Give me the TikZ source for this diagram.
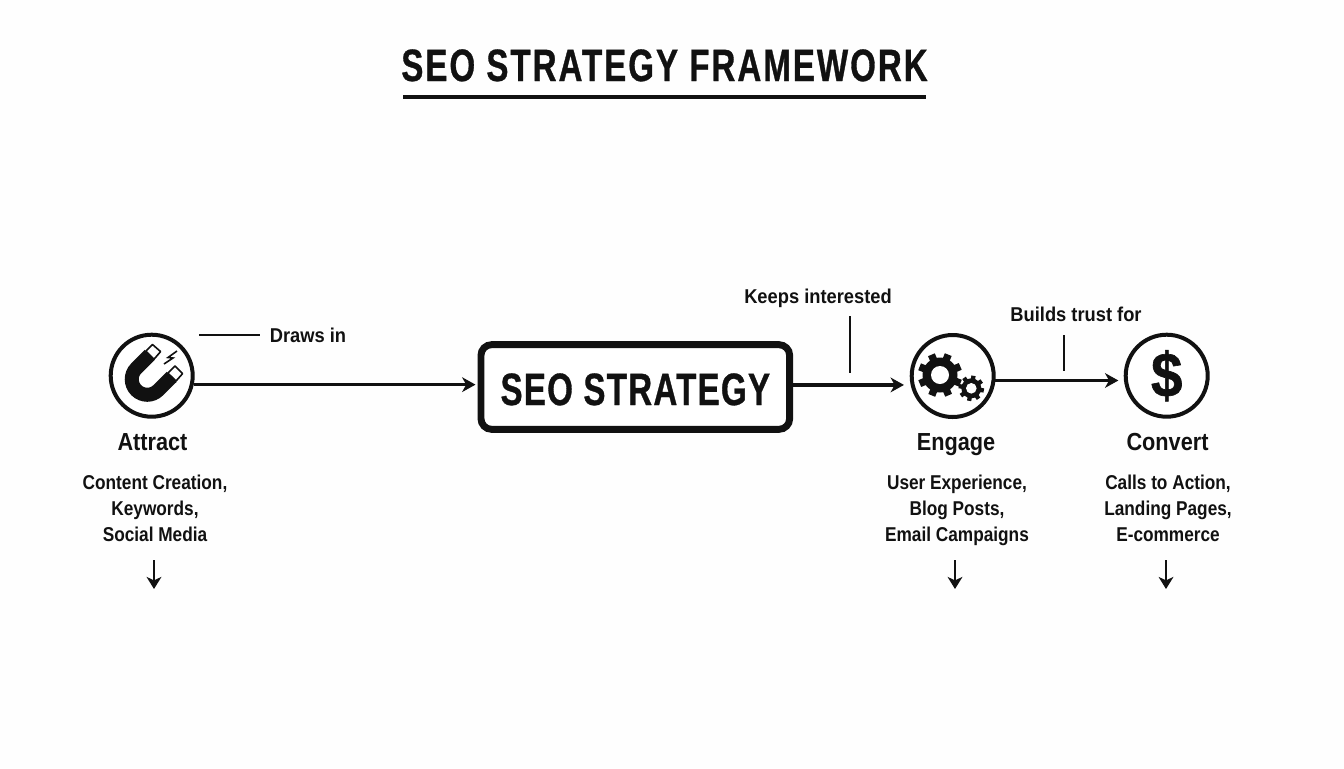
\documentclass[tikz,border=0pt]{standalone}
\usepackage{fontspec}
\setmainfont{Liberation Sans}
\newfontfamily\titlefont{Liberation Sans Bold}[FakeStretch=0.73,FakeBold=0.7,LetterSpace=4.4]
\newfontfamily\boxfont{Liberation Sans Bold}[FakeStretch=0.73,FakeBold=0.7,LetterSpace=2.8]
\newfontfamily\headfont{Liberation Sans Bold}[FakeStretch=0.88]
\newfontfamily\subfont{Liberation Sans Bold}[FakeStretch=0.862]
\newfontfamily\notefont{Liberation Sans Bold}[FakeStretch=0.915]
\newfontfamily\iconfont{Liberation Sans Bold}[FakeStretch=0.9,FakeBold=1]
\usetikzlibrary{arrows.meta,calc}
\definecolor{ink}{HTML}{111111}
\tikzset{
  x=0.75pt,y=-0.75pt,
  ring/.style={circle,draw=ink,line width=3pt,minimum size=61.5pt,inner sep=0pt,fill=white},
  flow/.style={draw=ink,line width=2.5pt,-{Stealth[length=10pt,width=11pt,inset=3pt]}},
  downflow/.style={draw=ink,line width=1.8pt,-{Stealth[length=9pt,width=11pt,inset=2.5pt]}},
  leader/.style={draw=ink,line width=1.5pt},
  heading/.style={text=ink,font=\headfont\fontsize{18.5}{18.5}\selectfont,inner sep=0pt,anchor=base},
  note/.style={text=ink,font=\notefont\fontsize{15}{15}\selectfont,inner sep=0pt,anchor=base},
  sub/.style={text=ink,font=\subfont\fontsize{15}{19.5}\selectfont,inner sep=0pt,align=center,anchor=center},
  tip/.style={draw=ink,fill=white,line width=1.2pt,line join=round}
}
\begin{document}
\begin{tikzpicture}
\useasboundingbox (0,0) rectangle (1344,768);
\fill[white!99.5!black] (0,0) rectangle (1344,768);
% title
\node[text=ink,font=\titlefont\fontsize{34}{34}\selectfont,inner sep=0pt,anchor=base] (title) at (664.5,81) {SEO STRATEGY FRAMEWORK};
\coordinate (ulA) at (403,97); \coordinate (ulB) at (926,97);
\draw[draw=ink,line width=2.4pt] (ulA) -- (ulB);
% centre box
\node[draw=ink,line width=5.2pt,rounded corners=8pt,fill=white,minimum width=231.5pt,minimum height=63.5pt,inner sep=0pt,
  text=ink,font=\boxfont\fontsize{34}{34}\selectfont,text height=27pt,text depth=0pt] (box) at (635.3,387) {SEO STRATEGY};
% rings
\node[ring] (attract) at (151.7,375.7) {};
\node[ring] (engage) at (952.7,376) {};
\node[ring,font=\iconfont\fontsize{47}{47}\selectfont,text=ink] (convert) at (1166.7,375.7) {\$};
% connectors
\draw[flow,shorten >=1.5pt] (attract.-12) -- (attract.-12 -| box.west);
\draw[flow,shorten >=5pt] (box.east |- engage.192) -- (engage.192);
\draw[flow,shorten >=4pt] (engage.-6) -- (engage.-6 -| convert.west);
% magnet
\draw[ink,line width=10.5pt,line cap=butt] (149.7,354.9) -- (136.3,368.3) arc[start angle=225,end angle=45,radius=15.5] -- (171.7,376.9);
\draw[tip] (145.9,351.1) -- (152.5,344.5) -- (160.6,351.6) -- (154,359.2) -- cycle;
\draw[tip] (167.9,373.1) -- (175,366) -- (182.6,373.6) -- (176,381) -- cycle;
\draw[ink,line width=1.2pt,line join=miter] (177,351) -- (168,357.5) -- (173,358) -- (164,364);
% gears
\foreach \a in {0,45,...,315} \draw[ink,line width=5.5pt] (940,375) -- ++(\a+22:22);
\fill[ink] (940,375) circle[radius=17.5];
\fill[white] (940,375) circle[radius=9];
\foreach \a in {0,45,...,315} \draw[ink,line width=3.2pt] (971.3,388.3) -- ++(\a+10:12.7);
\fill[ink] (971.3,388.3) circle[radius=10];
\fill[white] (971.3,388.3) circle[radius=5.3];
% leaders & notes
\node[note] (drawsin) at (308,342.3) {Draws in};
\coordinate (lA) at (199,335); \coordinate (lB) at (260,335);
\draw[leader] (lA) -- (lB);
\node[note] (keeps) at (818,303.3) {Keeps interested};
\coordinate (kB) at (850,372.5); \coordinate (kA) at (850,316);
\draw[leader] (kA) -- (kB);
\node[note] (builds) at (1076,321.7) {Builds trust for};
\coordinate (bA) at (1063.5,335); \coordinate (bB) at (1063.5,371);
\draw[leader] (bA) -- (bB);
% labels
\node[heading] (lblA) at (152.5,450) {Attract};
\node[heading] (lblE) at (956,450) {Engage};
\node[heading] (lblC) at (1167.5,450) {Convert};
\node[sub] (subA) at (155,510.5) {\strut Content Creation,\\Keywords,\\Social Media\strut};
\node[sub] (subE) at (957,510.5) {\strut User Experience,\\Blog Posts,\\Email Campaigns\strut};
\node[sub] (subC) at (1168,510.5) {\strut Calls to Action,\\Landing Pages,\\E-commerce\strut};
% down arrows
\coordinate (dA) at (154,589); \coordinate (dE) at (955,589); \coordinate (dC) at (1166,589);
\draw[downflow] (154,560) -- (dA);
\draw[downflow] (955,560) -- (dE);
\draw[downflow] (1166,560) -- (dC);
\end{tikzpicture}
\end{document}
